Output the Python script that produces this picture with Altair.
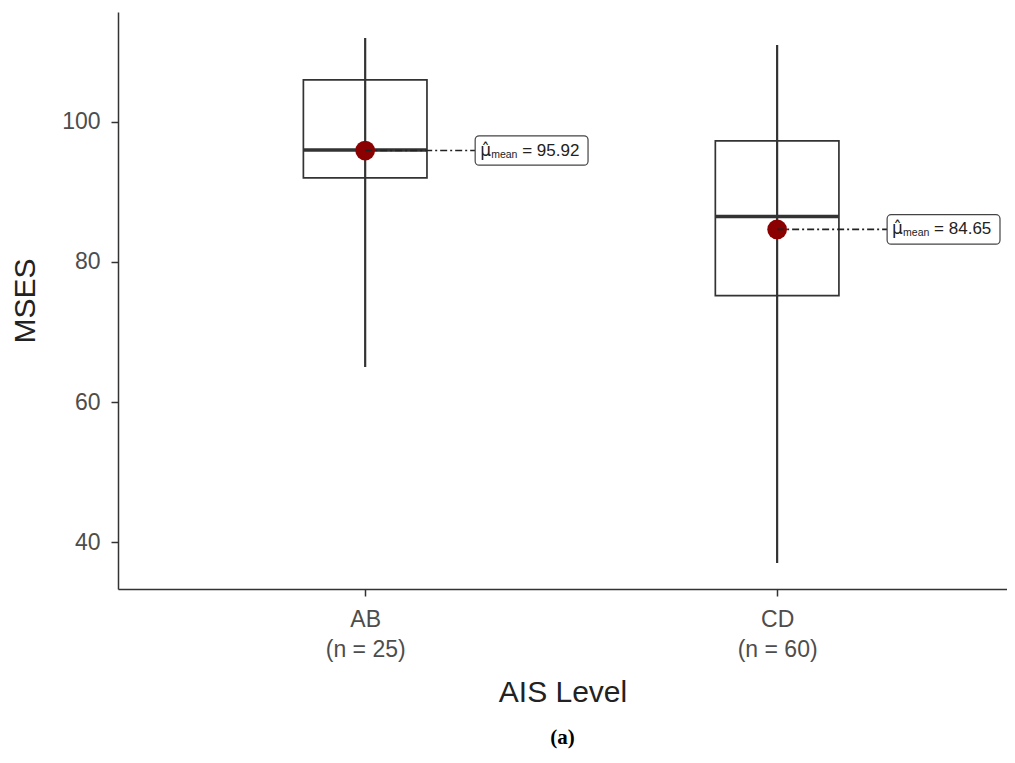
import altair as alt
import pandas as pd

groups = ["AB", "CD"]
group_pos = [1, 2]
counts = [25, 60]
whisker_low = [65.0, 37.0]
q1_vals = [92.0, 75.2]
medians = [96.0, 86.5]
q3_vals = [106.0, 97.3]
whisker_high = [112.0, 111.0]
means = [95.92, 84.65]

df = pd.DataFrame(dict(group=groups, pos=group_pos, n=counts, lo=whisker_low,
                       q1=q1_vals, med=medians, q3=q3_vals, hi=whisker_high, mean=means))

label_expr = " : ".join(
    f"datum.value == {p} ? ['{g}', '(n = {n})']" for g, p, n in zip(groups, group_pos, counts)
) + " : ''"

FONT = "Liberation Sans"
xscale = alt.Scale(domain=[0.4, 2.558], nice=False, zero=False)
yscale = alt.Scale(domain=[33.3, 115.7], nice=False, zero=False)

xaxis = alt.Axis(values=group_pos, labelExpr=label_expr, title="AIS Level", grid=False,
                 labelFontSize=23, labelColor="#4d4d4d", labelFont=FONT, labelLineHeight=30,
                 labelPadding=12, tickSize=7, tickColor="#333", tickWidth=1.5,
                 domainColor="#333", domainWidth=1.5, titleFontSize=30, titleFont=FONT,
                 titleFontWeight="normal", titleColor="#222", titlePadding=16)
yaxis = alt.Axis(values=[40, 60, 80, 100], title="MSES", grid=False,
                 labelFontSize=23, labelColor="#4d4d4d", labelFont=FONT, labelPadding=11,
                 tickSize=7, tickColor="#333", tickWidth=1.5,
                 domainColor="#333", domainWidth=1.5, titleFontSize=30, titleFont=FONT,
                 titleFontWeight="normal", titleColor="#222", titlePadding=21)

base = alt.Chart(df).transform_calculate(
    bl="datum.pos - 0.15", br="datum.pos + 0.15",
    ls="datum.pos + 0.267", le="datum.pos + 0.541",
    mlo="datum.mean - 2.1", mhi="datum.mean + 2.1",
    mtxt="'= ' + format(datum.mean, '.2f')"
)

X = lambda f: alt.X(f, type="quantitative", scale=xscale, axis=xaxis)
Y = lambda f: alt.Y(f, type="quantitative", scale=yscale, axis=yaxis)

box = base.mark_rect(fill="white", stroke="#333", strokeWidth=1.7).encode(
    x=X("bl"), x2="br:Q", y=Y("q1"), y2="q3:Q")
whisk = base.mark_rule(color="#333", strokeWidth=2.2).encode(
    x=X("pos"), y=Y("lo"), y2="hi:Q")
med = base.mark_rule(color="#333", strokeWidth=3.4).encode(
    x=X("bl"), x2="br:Q", y=Y("med"))
pt = base.mark_circle(size=390, color="#8b0000", opacity=1).encode(
    x=X("pos"), y=Y("mean"))
dash = base.mark_rule(color="#222", strokeWidth=1.7, strokeDash=[7, 3, 2, 3]).encode(
    x=X("pos"), x2="ls:Q", y=Y("mean"))
lbox = base.mark_rect(fill="white", stroke="#444", strokeWidth=1.2, cornerRadius=4).encode(
    x=X("ls"), x2="le:Q", y=Y("mlo"), y2="mhi:Q")
t_mu = base.mark_text(align="left", baseline="middle", dx=5, dy=0, fontSize=17,
                      font="DejaVu Sans", color="#222").encode(
    x=X("ls"), y=Y("mean"), text=alt.value("μ̂"))
t_sub = base.mark_text(align="left", baseline="middle", dx=16, dy=4, fontSize=10.5,
                       font=FONT, color="#222").encode(
    x=X("ls"), y=Y("mean"), text=alt.value("mean"))
t_val = base.mark_text(align="left", baseline="middle", dx=47, dy=0, fontSize=17,
                       font=FONT, color="#222").encode(
    x=X("ls"), y=Y("mean"), text="mtxt:N")

chart = alt.layer(box, whisk, med, pt, dash, lbox, t_mu, t_sub, t_val).properties(
    width=889, height=577,
    autosize=alt.AutoSizeParams(type="none"),
    padding={"left": 110, "top": 4, "right": 0, "bottom": 160},
    title=alt.TitleParams("(a)", orient="bottom", font="Liberation Serif", fontSize=21,
                          fontWeight="bold", color="#000", offset=20)
).configure_view(stroke=None)

chart.save("out.html", embed_options={"renderer": "svg", "actions": False})
